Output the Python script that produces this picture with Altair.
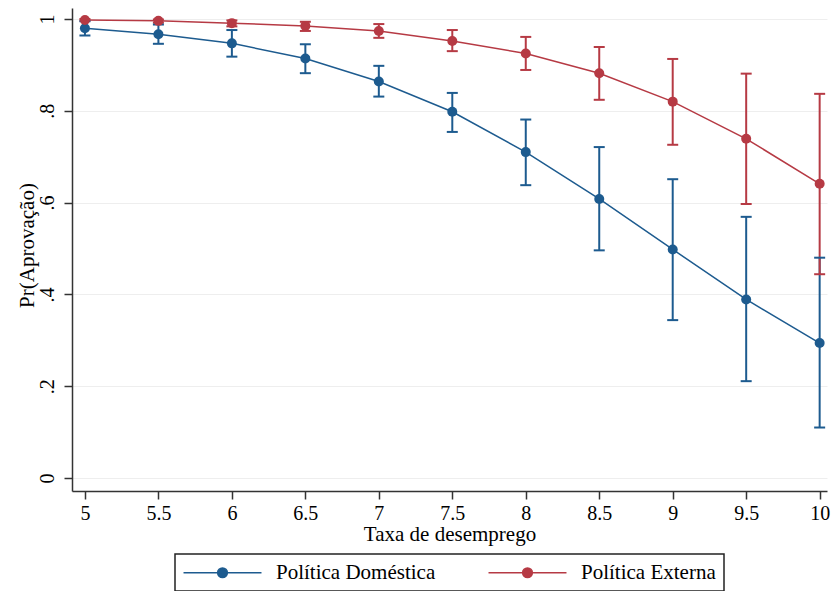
import altair as alt
import pandas as pd

# ---- data ----
x_vals = [5, 5.5, 6, 6.5, 7, 7.5, 8, 8.5, 9, 9.5, 10]
dom_mean = [0.980, 0.967, 0.947, 0.914, 0.864, 0.798, 0.710, 0.608, 0.498, 0.389, 0.294]
dom_low = [0.964, 0.946, 0.918, 0.882, 0.831, 0.754, 0.638, 0.496, 0.344, 0.211, 0.110]
dom_high = [0.995, 0.988, 0.976, 0.945, 0.898, 0.839, 0.781, 0.721, 0.651, 0.569, 0.480]
ext_mean = [0.998, 0.996, 0.991, 0.985, 0.974, 0.952, 0.925, 0.882, 0.820, 0.739, 0.641]
ext_low = [0.996, 0.992, 0.984, 0.974, 0.959, 0.930, 0.889, 0.824, 0.726, 0.597, 0.444]
ext_high = [1.000, 0.999, 0.997, 0.994, 0.989, 0.976, 0.961, 0.939, 0.913, 0.881, 0.837]
series = ["Política Doméstica", "Política Externa"]
colors = ["#1d5b8f", "#b63a44"]

y_tick_values = [0, 0.2, 0.4, 0.6, 0.8, 1]
y_tick_labels = ["0", ".2", ".4", ".6", ".8", "1"]
x_title = "Taxa de desemprego"
y_title = "Pr(Aprovação)"

FONT = "Liberation Serif"

rows = []
for s, m, lo, hi in [(series[0], dom_mean, dom_low, dom_high),
                     (series[1], ext_mean, ext_low, ext_high)]:
    for x, a, b, c in zip(x_vals, m, lo, hi):
        rows.append({"x": x, "mean": a, "low": b, "high": c, "series": s})
df = pd.DataFrame(rows)

y_label_expr = " : ".join(
    f"datum.value == {v} ? '{l}'" for v, l in zip(y_tick_values, y_tick_labels)
) + " : ''"

xs = alt.Scale(domain=[4.912, 10.05], nice=False, zero=False)
ys = alt.Scale(domain=[-0.0283, 1.024], nice=False, zero=False)
cs = alt.Scale(domain=series, range=colors)

x_axis = alt.Axis(values=x_vals, labelExpr="'' + datum.value", title=x_title,
                  grid=False, domainColor="#333333", domainWidth=1.5,
                  tickColor="#333333", tickWidth=1.5, tickSize=8,
                  labelFont=FONT, labelFontSize=20, labelColor="black",
                  labelPadding=4, labelFlush=False, labelOverlap=False,
                  titleFont=FONT, titleFontSize=21, titleFontWeight="normal",
                  titleColor="black", titleY=49, titleBaseline="alphabetic")
y_axis = alt.Axis(values=y_tick_values, labelExpr=y_label_expr, title=y_title,
                  grid=True, gridColor="#eeeeee", gridWidth=1,
                  domainColor="#333333", domainWidth=1.5,
                  tickColor="#333333", tickWidth=1.5, tickSize=8,
                  labelFont=FONT, labelFontSize=20, labelColor="black",
                  labelAngle=270, labelAlign="center", labelBaseline="bottom",
                  labelPadding=7, labelFlush=False, labelOverlap=False,
                  titleFont=FONT, titleFontSize=21, titleFontWeight="normal",
                  titleColor="black", titleAngle=270, titleBaseline="bottom",
                  titleX=-35, titleY=237)

SYMBOL = "M-4,0H4M0.5,0A0.5,0.5,0,1,1,-0.5,0A0.5,0.5,0,1,1,0.5,0Z"
legend = alt.Legend(title=None, orient="none", legendX=103, legendY=546,
                    direction="horizontal", columns=2, gridAlign="all",
                    columnPadding=49, symbolType=SYMBOL, symbolSize=380,
                    symbolStrokeWidth=1.5, symbolOffset=29, labelOffset=43,
                    labelFont=FONT, labelFontSize=21, labelColor="black",
                    strokeColor="#222222", padding=8)

base = alt.Chart(df)
X = alt.X("x:Q", scale=xs, axis=x_axis)

lines = base.mark_line(strokeWidth=1.5).encode(
    x=X, y=alt.Y("mean:Q", scale=ys, axis=y_axis),
    stroke=alt.Stroke("series:N", scale=cs, legend=legend))
bars = base.mark_rule(strokeWidth=2).encode(
    x=X, y=alt.Y("low:Q", scale=ys), y2="high:Q",
    stroke=alt.Stroke("series:N", scale=cs, legend=legend))
caps_lo = base.mark_tick(orient="horizontal", size=11, thickness=2, opacity=1).encode(
    x=X, y=alt.Y("low:Q", scale=ys),
    color=alt.Color("series:N", scale=cs, legend=legend))
caps_hi = base.mark_tick(orient="horizontal", size=11, thickness=2, opacity=1).encode(
    x=X, y=alt.Y("high:Q", scale=ys),
    color=alt.Color("series:N", scale=cs, legend=legend))
points = base.mark_point(filled=True, size=100, opacity=1).encode(
    x=X, y=alt.Y("mean:Q", scale=ys),
    color=alt.Color("series:N", scale=cs, legend=legend))

chart = alt.layer(lines, bars, caps_lo, caps_hi, points).properties(
    width=755, height=483,
    autosize=alt.AutoSizeParams(type="none"),
    padding={"left": 64, "top": 0, "right": 4, "bottom": 100},
    background="white",
).configure_view(stroke=None).configure_legend(strokeWidth=1.5)

chart.save("out.html", embed_options={"renderer": "svg", "actions": False})
